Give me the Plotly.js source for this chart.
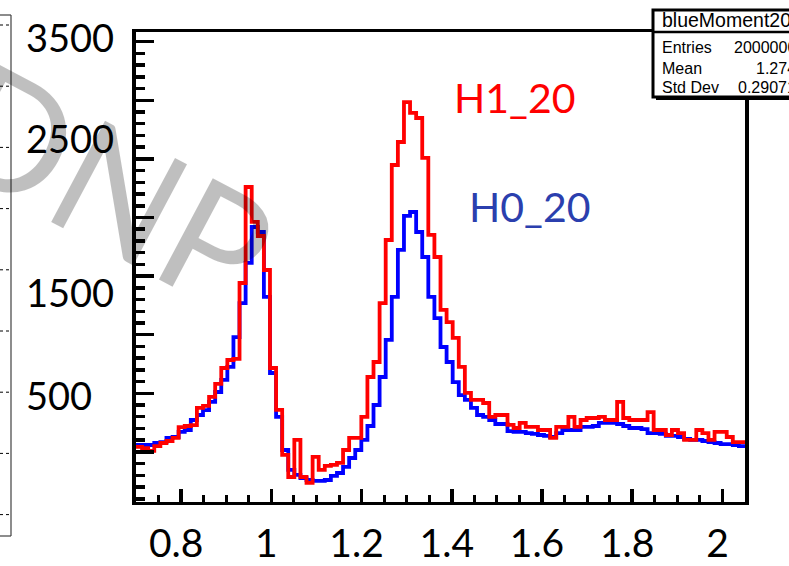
<!DOCTYPE html>
<html><head><meta charset="utf-8">
<script src="https://cdn.plot.ly/plotly-3.0.1.min.js"></script>
<style>html,body{margin:0;padding:0;background:#fff;overflow:hidden;}</style>
</head><body><div id="chart" style="width:789px;height:566px;"></div>
<script>
// ---- data ----
const binLow = 0.70;
const binWidth = 0.0135;
// H1_20 (red) bin contents
const h1Values = [42,33,8,50,76,93,119,212,221,229,
 375,392,469,580,716,784,793,1441,2260,1962,
 1842,1552,716,358,-26,-214,102,-214,-265,-43,
 -154,-120,-111,-94,16,119,119,298,639,767,
 1270,1808,2448,2644,2985,2892,2849,2508,1851,1663,
 1211,1108,972,725,503,443,443,417,298,315,
 315,230,204,247,213,213,187,187,119,213,
 213,298,213,272,289,289,298,272,272,426,
 289,272,272,272,340,187,187,144,187,161,
 102,102,187,161,102,170,170,127,84,84];
// H0_20 (blue) bin contents
const h0Values = [59,59,59,76,84,119,127,170,187,272,
 315,357,426,511,614,725,980,1270,1612,1919,
 1876,1322,673,298,16,-154,-196,-223,-240,-248,
 -248,-240,-205,-180,-128,-52,16,102,221,400,
 639,955,1322,1723,2013,2047,1876,1663,1322,1142,
 895,767,596,485,443,375,315,298,272,238,
 238,178,170,170,161,153,144,136,127,161,
 187,187,187,213,213,221,247,247,247,238,
 221,204,204,195,161,161,153,136,136,127,
 110,102,102,93,84,76,67,67,59,50];
const yLabelTexts = ['3500','2500','1500','500'];
const seriesNames = ['H1_20','H0_20'];
const statsTitle = 'blueMoment20';
const statsNames = ['Entries','Mean','Std Dev'];
const statsValues = ['2000000','1.274','0.29071'];
const watermarkText = 'DNP';

// ---- layout helpers (pixel -> paper) ----
const W = 789, H = 566;
const mL = 136, mR = 44, mT = 32, mB = 64;
const pw = W - mL - mR, ph = H - mT - mB;
const px = x => (x - mL) / pw;
const py = y => (H - mB - y) / ph;

function steps(vals){
  const xs = [], ys = [];
  for (let i = 0; i < vals.length; i++){ xs.push(binLow + i*binWidth); ys.push(vals[i]); }
  xs.push(binLow + vals.length*binWidth); ys.push(vals[vals.length-1]);
  return {xs, ys};
}
const s0 = steps(h0Values), s1 = steps(h1Values);

const traces = [
  {type:'scatter', mode:'lines', name:seriesNames[1], x:s0.xs, y:s0.ys,
   line:{shape:'hv', color:'#0000ff', width:3.8}, hoverinfo:'skip'},
  {type:'scatter', mode:'lines', name:seriesNames[0], x:s1.xs, y:s1.ys,
   line:{shape:'hv', color:'#ff0000', width:3.8}, hoverinfo:'skip'}
];

const shapes = [];
// left partial panel frame
shapes.push({type:'line', xref:'paper', yref:'paper', x0:px(11), x1:px(11), y0:py(15), y1:py(536), line:{color:'#404040', width:1.2}, layer:'above'});
shapes.push({type:'line', xref:'paper', yref:'paper', x0:px(-2), x1:px(11), y0:py(15), y1:py(15), line:{color:'#404040', width:1.2}, layer:'above'});
shapes.push({type:'line', xref:'paper', yref:'paper', x0:px(-2), x1:px(11), y0:py(536), y1:py(536), line:{color:'#404040', width:1.2}, layer:'above'});
for (let k = 0; k < 9; k++){
  const yy = 25 + k*61.2;
  shapes.push({type:'line', xref:'paper', yref:'paper', x0:px(0), x1:px(10), y0:py(yy), y1:py(yy), line:{color:'#000', width:1, dash:'dot'}, layer:'above'});
}
// stats box
shapes.push({type:'rect', xref:'paper', yref:'paper', x0:px(656), x1:px(805), y0:py(100), y1:py(13), fillcolor:'#000', line:{width:0}, layer:'above'});
shapes.push({type:'rect', xref:'paper', yref:'paper', x0:px(653), x1:px(805), y0:py(97), y1:py(10), fillcolor:'#fff', line:{color:'#000', width:3}, layer:'above'});
shapes.push({type:'line', xref:'paper', yref:'paper', x0:px(653), x1:px(805), y0:py(32), y1:py(32), line:{color:'#000', width:2.5}, layer:'above'});

const annotations = [];
annotations.push({text:watermarkText, xref:'paper', yref:'paper', x:px(110), y:py(183), xanchor:'center', yanchor:'middle',
  showarrow:false, textangle:28, font:{family:'Lato', size:160, color:'rgba(0,0,0,0.25)'}});
const yLabelCenters = [37, 137.5, 292, 394.5];
yLabelTexts.forEach((t, i) => annotations.push({text:t, xref:'paper', yref:'paper', x:px(24), y:py(yLabelCenters[i]),
  xanchor:'left', yanchor:'middle', showarrow:false, font:{family:'Lato', size:38, color:'#000'}}));
annotations.push({text:seriesNames[0], xref:'paper', yref:'paper', x:px(452), y:py(98), xanchor:'left', yanchor:'middle',
  showarrow:false, font:{family:'Lato', size:41, color:'#ff0000'}});
annotations.push({text:seriesNames[1], xref:'paper', yref:'paper', x:px(467), y:py(206), xanchor:'left', yanchor:'middle',
  showarrow:false, font:{family:'Lato', size:41, color:'#2b3fae'}});
annotations.push({text:statsTitle, xref:'paper', yref:'paper', x:px(660), y:py(20.5), xanchor:'left', yanchor:'middle',
  showarrow:false, font:{family:'Liberation Sans', size:19.5, color:'#000'}});
const rowCenters = [47.5, 68.5, 88];
statsNames.forEach((t, i) => {
  annotations.push({text:t, xref:'paper', yref:'paper', x:px(660), y:py(rowCenters[i]), xanchor:'left', yanchor:'middle',
    showarrow:false, font:{family:'Liberation Sans', size:16, color:'#000'}});
  annotations.push({text:statsValues[i], xref:'paper', yref:'paper', x:px(798), y:py(rowCenters[i]), xanchor:'right', yanchor:'middle',
    showarrow:false, font:{family:'Liberation Sans', size:16, color:'#000'}});
});

const layout = {
  width: W, height: H,
  margin: {l:mL, r:mR, t:mT, b:mB, pad:0},
  paper_bgcolor:'#fff', plot_bgcolor:'#fff',
  showlegend:false,
  xaxis:{range:[0.70, 2.05], tickmode:'linear', tick0:0, dtick:0.2,
    ticks:'inside', ticklen:13, tickwidth:3.5, tickcolor:'#000',
    minor:{dtick:0.05, ticks:'inside', ticklen:7, tickwidth:3, tickcolor:'#000'},
    showline:true, linewidth:3, linecolor:'#000', mirror:true,
    showgrid:false, zeroline:false,
    tickfont:{family:'Lato', size:39, color:'#000'},
    ticklabelstandoff:5, ticklabelshift:-5},
  yaxis:{range:[-427.5, 3582.6], tickmode:'linear', tick0:0, dtick:500,
    ticks:'inside', ticklen:18, tickwidth:3.5, tickcolor:'#000',
    minor:{dtick:100, ticks:'inside', ticklen:9, tickwidth:3.5, tickcolor:'#000'},
    showticklabels:false,
    showline:true, linewidth:4, linecolor:'#000', mirror:true,
    showgrid:false, zeroline:false},
  shapes: shapes,
  annotations: annotations
};
Plotly.newPlot('chart', traces, layout, {staticPlot:true, displayModeBar:false});
</script></body></html>
